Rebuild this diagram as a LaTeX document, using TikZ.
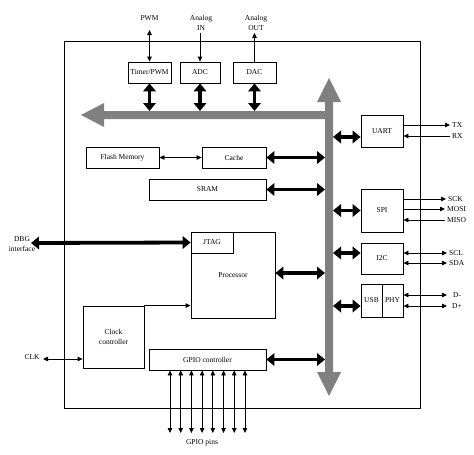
\documentclass[tikz,border=0pt]{standalone}
\usepackage{fontspec}
\setmainfont{Liberation Serif}
\usetikzlibrary{arrows.meta}
\begin{document}
\begin{tikzpicture}[x=1pt,y=-1pt,
  lbl/.style={font=\fontsize{7.5}{9.8}\selectfont, inner sep=1pt, align=center},
  box/.style={draw, line width=0.8pt, lbl},
  fat/.style={line width=3.8pt, {Triangle[length=8pt,width=12.5pt]}-{Triangle[length=8pt,width=12.5pt]}},
  thinarr/.style={line width=0.8pt, -{Triangle[length=5pt,width=4.5pt]}},
  thinboth/.style={line width=0.8pt, {Triangle[length=5pt,width=4.5pt]}-{Triangle[length=5pt,width=4.5pt]}},
  busfill/.style={fill=black!50, draw=none},
]
\useasboundingbox (0,0) rectangle (474,455);
% outer chip
\draw[line width=0.8pt] (64,41) rectangle (420,408);

% bus
\fill[busfill] (329,78) -- (341,102) -- (333,102) -- (333,372) -- (341,372) -- (329,396)
  -- (317,372) -- (325,372) -- (325,119) -- (104,119) -- (104,127) -- (81,115)
  -- (104,103) -- (104,111) -- (325,111) -- (325,102) -- (317,102) -- cycle;
\coordinate (busH) at (0,111);
\coordinate (busL) at (325,0);
\coordinate (busR) at (333,0);

% top peripherals
\node[box, minimum width=43pt, minimum height=21pt] (timer) at (149.5,72.5) {Timer/PWM};
\node[box, minimum width=40pt, minimum height=21pt] (adc) at (200,72.5) {ADC};
\node[box, minimum width=43pt, minimum height=21pt] (dac) at (254.5,72.5) {DAC};
\node[lbl] (pwm) at (149.5,18) {PWM};
\node[lbl] (ain) at (201,23) {Analog\\IN};
\node[lbl] (aout) at (256,23) {Analog\\OUT};
\coordinate (pwmE) at (149.5,30);
\coordinate (ainE) at (200,33);
\coordinate (aoutE) at (254.5,33);
\draw[thinboth] (pwmE) -- (timer.north);
\draw[thinarr] (ainE) -- (adc.north);
\draw[thinarr] (dac.north) -- (aoutE);
\draw[fat] (timer.south) -- (timer.south |- busH);
\draw[fat] (adc.south) -- (adc.south |- busH);
\draw[fat] (dac.south) -- (dac.south |- busH);

% memories
\node[box, minimum width=73pt, minimum height=21pt] (flash) at (122.5,157.5) {Flash Memory};
\node[box, minimum width=64pt, minimum height=21pt] (cache) at (234,157.5) {Cache};
\node[box, minimum width=117pt, minimum height=21pt] (sram) at (207.5,189.5) {SRAM};
\draw[thinboth] (flash.east) -- (cache.west);
\draw[fat] (cache.east) -- (cache.east -| busL);
\draw[fat] (sram.east) -- (sram.east -| busL);

% processor
\node[box, minimum width=84pt, minimum height=86pt] (proc) at (233,275) {Processor};
\node[box, minimum width=42pt, minimum height=21pt] (jtag) at (212,242.5) {JTAG};
\draw[fat] ([yshift=2pt]proc.east) -- ([yshift=2pt]proc.east -| busL);
\node[lbl] (dbg) at (22,244) {DBG\\interface};
\coordinate (dbgE) at (31,243);
\draw[fat] (dbgE) -- (jtag.west);

% clock
\node[box, minimum width=61pt, minimum height=62pt] (clock) at (113.5,337) {Clock\\controller};
\draw[thinarr] (clock.north east) -- (clock.north east -| proc.west);
\node[lbl] (clk) at (32,357.5) {CLK};
\coordinate (clkE) at (43,359);
\draw[thinboth] (clkE) -- (clkE -| clock.west);

% GPIO
\node[box, minimum width=117pt, minimum height=21pt] (gpio) at (207.5,359.5) {GPIO controller};
\draw[fat] (gpio.east) -- (gpio.east -| busL);
\foreach \i in {0,...,7} {
  \pgfmathsetmacro\px{170+\i*10.71}
  \coordinate (pin\i) at (\px,433);
  \draw[thinboth] (pin\i |- gpio.south) -- (pin\i);
}
\node[lbl] (gpins) at (202,443) {GPIO pins};

% right peripherals
\node[box, minimum width=42pt, minimum height=32pt] (uart) at (382,131) {UART};
\node[box, minimum width=42pt, minimum height=43pt] (spi) at (382,210.5) {SPI};
\node[box, minimum width=42pt, minimum height=31pt] (i2c) at (382,258.5) {I2C};
\node[box, minimum width=21pt, minimum height=33pt] (usb) at (371.5,300.5) {USB};
\node[box, minimum width=21pt, minimum height=33pt] (phy) at (392.5,300.5) {PHY};
\draw[fat] ([yshift=-6pt]busR |- uart.west) -- ([yshift=-6pt]uart.west);
\draw[fat] (busR |- spi.west) -- (spi.west);
\draw[fat] ([yshift=5.5pt]busR |- i2c.west) -- ([yshift=5.5pt]i2c.west);
\draw[fat] ([yshift=-5.5pt]busR |- usb.west) -- ([yshift=-5.5pt]usb.west);

\node[lbl, anchor=west, inner sep=2pt] (tx) at (450,125) {TX};
\node[lbl, anchor=west, inner sep=2pt] (rx) at (450,136) {RX};
\draw[thinarr] (uart.east |- tx) -- (tx.west);
\draw[thinarr] (rx.west) -- (uart.east |- rx);

\node[lbl, anchor=west, inner sep=2pt] (sck) at (446,199) {SCK};
\node[lbl, anchor=west, inner sep=2pt] (mosi) at (445,209) {MOSI};
\node[lbl, anchor=west, inner sep=2pt] (miso) at (445,220) {MISO};
\draw[thinarr] (spi.east |- sck) -- (sck.west);
\draw[thinarr] (spi.east |- mosi) -- (mosi.west);
\draw[thinarr] (miso.west) -- (spi.east |- miso);

\node[lbl, anchor=west, inner sep=2pt] (scl) at (447,253) {SCL};
\node[lbl, anchor=west, inner sep=2pt] (sda) at (447,263) {SDA};
\draw[thinboth] (i2c.east |- scl) -- (scl.west);
\draw[thinboth] (i2c.east |- sda) -- (sda.west);

\node[lbl, anchor=west, inner sep=2pt] (dm) at (451,295) {D-};
\node[lbl, anchor=west, inner sep=2pt] (dp) at (450,306) {D+};
\draw[thinboth] (phy.east |- dm) -- ([xshift=-4pt]dm.west);
\draw[thinboth] (phy.east |- dp) -- ([xshift=-3pt]dp.west);
\end{tikzpicture}
\end{document}
